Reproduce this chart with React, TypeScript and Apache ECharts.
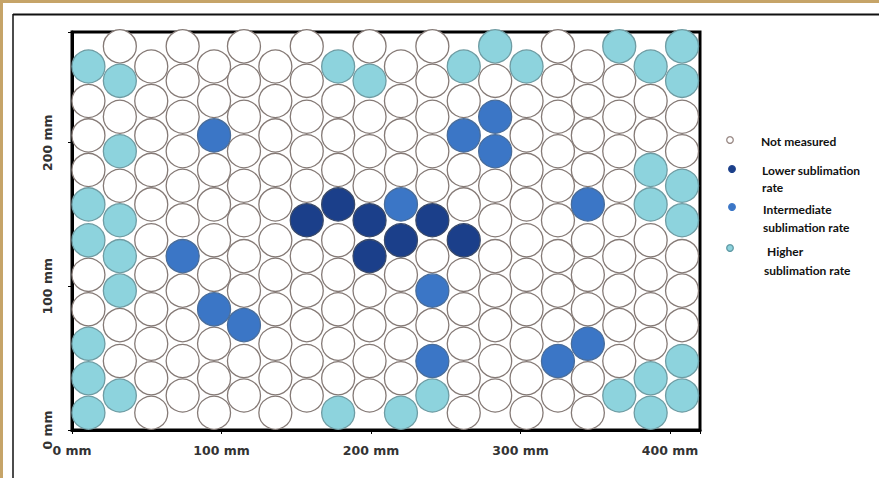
import React, { useEffect, useRef } from "react";
import * as echarts from "echarts";

// Column centre positions (mm)
const colX = [11, 32, 53, 74, 95, 115, 136, 157, 178, 199, 220, 241, 262, 283, 304, 325, 345, 366, 387, 408];
// Row centre positions (mm), bottom to top, for even and odd columns
const evenRowY = [12, 36, 60, 84, 108, 132, 157, 181, 205, 229, 253];
const oddRowY = [24, 48, 73, 97, 121, 146, 170, 194, 218, 243, 267];
// Status per column, bottom to top: "." not measured, L lower, I intermediate, H higher
const columnStatus = [
  "HHH..HH...H",
  "H..HHH.H.H.",
  "...........",
  "....I......",
  "...I....I..",
  "..I........",
  "...........",
  ".....L.....",
  "H.....L...H",
  "....LL...H.",
  "H....LI....",
  "HI.I.L.....",
  ".....L..I.H",
  ".......II.H",
  "..........H",
  ".I.........",
  "..I...I....",
  "H.........H",
  "HH....HH..H",
  "HH...HH..HH",
];
const statusCodes = [".", "L", "I", "H"];
const statusNames = ["Not measured", "Lower sublimation rate", "Intermediate sublimation rate", "Higher sublimation rate"];
const legendLines = [["Not measured"], ["Lower sublimation", "rate"], ["Intermediate", "sublimation rate"], ["Higher", "sublimation rate"]];
const xTickValues = [0, 100, 200, 300, 400];
const yTickValues = [0, 100, 200];

const statusColors = ["#ffffff", "#1b3f8a", "#3b76c6", "#8dd3dd"];
const statusBorders = ["#857a76", "#3a4a6a", "#4a6d9a", "#6f9ca3"];
const legendMarkerPos = [[730, 140], [732, 169], [732, 207], [730, 248]];
const legendTextPos = [[[761, 141]], [[762, 170], [762, 187]], [[763, 209], [763, 227]], [[767, 251], [764, 270]]];

export default function App() {
  const ref = useRef<HTMLDivElement>(null);
  useEffect(() => {
    if (!ref.current) return;
    const chart = echarts.init(ref.current, undefined, { renderer: "svg" });

    const series = statusCodes.map((code, k) => {
      const data: number[][] = [];
      columnStatus.forEach((col, i) => {
        const rows = i % 2 === 0 ? evenRowY : oddRowY;
        for (let r = 0; r < col.length; r++) {
          if (col[r] === code) data.push([colX[i], rows[r]]);
        }
      });
      return {
        name: statusNames[k],
        type: "scatter",
        data,
        symbol: "circle",
        symbolSize: 33,
        silent: true,
        itemStyle: { color: statusColors[k], borderColor: statusBorders[k], borderWidth: 1.3, opacity: 1 },
      };
    });

    const graphic: any[] = [
      { type: "rect", shape: { x: 0, y: 0, width: 879, height: 3 }, style: { fill: "#c6a468" } },
      { type: "rect", shape: { x: 0, y: 0, width: 3, height: 478 }, style: { fill: "#c6a468" } },
      { type: "line", shape: { x1: 13, y1: 14.5, x2: 879, y2: 14.5 }, style: { stroke: "#111", lineWidth: 2 } },
      { type: "line", shape: { x1: 13, y1: 14, x2: 13, y2: 478 }, style: { stroke: "#111", lineWidth: 1.5 } },
    ];
    legendMarkerPos.forEach((p, k) => {
      graphic.push({
        type: "circle",
        shape: { cx: p[0], cy: p[1], r: 3.3 },
        style: { fill: statusColors[k], stroke: k === 0 ? "#9a8a86" : k === 3 ? "#5f9aa5" : statusColors[k], lineWidth: 1.3 },
      });
    });
    legendLines.forEach((lines, k) => {
      lines.forEach((t, j) => {
        graphic.push({
          type: "text",
          x: legendTextPos[k][j][0],
          y: legendTextPos[k][j][1],
          style: {
            text: t,
            fill: "#111",
            font: "bold 12px Lato",
            textVerticalAlign: "middle",
            verticalAlign: "middle",
          },
        });
      });
    });

    chart.setOption({
      animation: false,
      backgroundColor: "#ffffff",
      grid: {
        left: 72,
        right: 179,
        top: 32,
        bottom: 48,
        show: true,
        borderColor: "#000",
        borderWidth: 3,
        backgroundColor: "#ffffff",
      },
      xAxis: {
        type: "value",
        min: 0,
        max: 420,
        interval: 100,
        splitLine: { show: false },
        axisLine: { show: true, lineStyle: { color: "#000", width: 3 } },
        axisTick: { show: true, length: 4, lineStyle: { color: "#000", width: 1 } },
        axisLabel: {
          margin: 14,
          color: "#333",
          fontFamily: "DejaVu Sans",
          fontWeight: "bold",
          fontSize: 12.5,
          formatter: (v: number) => (xTickValues.indexOf(v) >= 0 ? `${v} mm` : ""),
        },
      },
      yAxis: {
        type: "value",
        min: 0,
        max: 277,
        interval: 100,
        splitLine: { show: false },
        axisLine: { show: true, lineStyle: { color: "#000", width: 3 } },
        axisTick: { show: true, length: 4, lineStyle: { color: "#000", width: 1 } },
        axisLabel: {
          rotate: 90,
          margin: 18,
          color: "#333",
          fontFamily: "DejaVu Sans",
          fontWeight: "bold",
          fontSize: 12.5,
          formatter: (v: number) => (yTickValues.indexOf(v) >= 0 ? `${v} mm` : ""),
        },
      },
      series,
      graphic,
    } as any);

    return () => chart.dispose();
  }, []);

  return (
    <div
      ref={ref}
      style={{ position: "absolute", left: 0, top: 0, width: 879, height: 478, background: "#fff" }}
    />
  );
}
